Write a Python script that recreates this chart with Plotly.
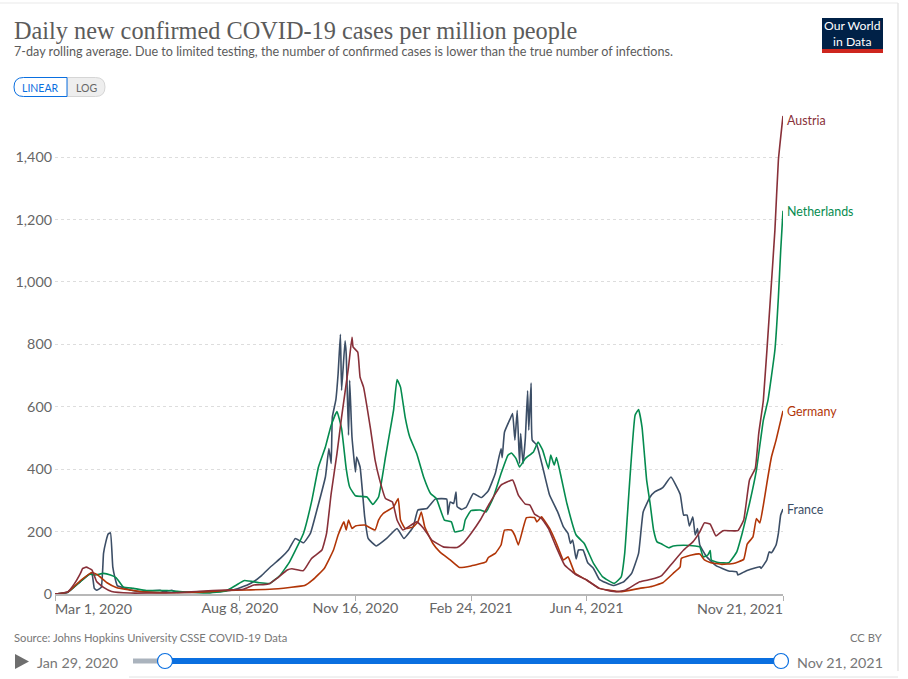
import pandas as pd
import plotly.graph_objects as go

W, H = 908, 679
# the photographed page comes out slightly squeezed vertically, so y positions are laid out against this height
H_LAYOUT = 671
start_date = pd.Timestamp("2020-03-01")

# Values: days since Mar 1, 2020 and cases per million
france_days = [0, 11, 22, 30, 32, 34, 36, 40, 42, 44, 46, 48, 50, 52, 54, 59, 65, 73, 91, 94, 101, 105, 117, 137, 154,
               166, 172, 179, 186, 195, 202, 208, 215, 221, 227, 234, 237, 239, 240, 243, 245, 247, 248, 251, 252, 254,
               255, 257, 260, 261, 264, 268, 271, 278, 287, 296, 302, 310, 314, 322, 329, 339, 340, 342, 345, 347, 348,
               352, 356, 362, 369, 375, 381, 386, 387, 389, 394, 396, 398, 400, 402, 403, 405, 407, 409, 410, 412, 413,
               417, 422, 428, 435, 440, 444, 446, 448, 451, 453, 457, 461, 466, 471, 483, 492, 499, 505, 509, 515, 519,
               526, 533, 541, 544, 547, 549, 552, 554, 556, 558, 564, 572, 583, 590, 591, 598, 610, 611, 616, 618, 620,
               624, 626, 628, 630]
france_vals = [0, 5, 40, 64, 66, 18, 12, 21, 130, 167, 192, 196, 87, 50, 26, 21, 13, 8, 12, 7, 12, 6, 5, 7, 13,
               28, 40, 60, 85, 114, 141, 178, 164, 194, 274, 375, 466, 418, 567, 621, 706, 832, 653, 811, 770, 509,
               685, 503, 391, 439, 407, 247, 178, 154, 178, 210, 178, 215, 269, 274, 304, 304, 255, 295, 290, 327, 280,
               271, 279, 322, 309, 331, 386, 466, 437, 519, 562, 578, 493, 589, 418, 514, 418, 498, 651, 525, 676, 493,
               477, 407, 317, 263, 215, 194, 162, 173, 112, 141, 141, 100, 82, 47, 27, 39, 66, 130, 263, 311, 327,
               341, 375, 320, 253, 253, 218, 247, 189, 210, 157, 119, 91, 74, 71, 61, 74, 87, 82, 109, 135, 132,
               157, 194, 253, 272]

austria_days = [0, 11, 17, 22, 24, 27, 32, 36, 42, 49, 65, 102, 125, 148, 163, 172, 180, 186, 192, 201, 205, 215, 222,
                231, 235, 239, 244, 248, 254, 257, 258, 262, 264, 267, 273, 277, 281, 286, 292, 296, 301, 313, 319, 326,
                336, 348, 353, 360, 368, 376, 386, 396, 401, 407, 411, 415, 421, 427, 433, 441, 450, 460, 471, 486, 494,
                506, 516, 525, 534, 544, 552, 558, 562, 567, 572, 578, 591, 596, 601, 606, 609, 613, 619, 623, 626, 630]
austria_vals = [0, 7, 34, 66, 82, 86, 77, 40, 21, 8, 3, 4, 9, 13, 15, 29, 30, 34, 50, 77, 81, 75, 114,
                141, 194, 322, 450, 567, 727, 823, 791, 775, 695, 663, 530, 429, 365, 306, 295, 237, 205, 231, 210, 173,
                151, 149, 162, 194, 237, 290, 349, 365, 317, 288, 285, 256, 242, 210, 157, 93, 64, 45, 18, 7, 13,
                39, 47, 59, 98, 141, 167, 199, 228, 224, 186, 203, 203, 237, 365, 402, 514, 621, 942, 1166, 1390, 1532]

netherlands_days = [0, 11, 22, 30, 35, 42, 48, 53, 59, 68, 79, 97, 111, 131, 148, 157, 164, 177, 186, 195, 203, 215, 222,
                    228, 234, 239, 244, 248, 252, 255, 260, 270, 275, 280, 286, 288, 293, 296, 299, 303, 307, 313, 319,
                    325, 330, 337, 343, 346, 353, 355, 360, 368, 373, 379, 386, 392, 395, 399, 402, 407, 414, 418, 422,
                    427, 429, 432, 434, 438, 443, 451, 458, 466, 474, 484, 490, 493, 497, 502, 505, 508, 512, 515, 518,
                    521, 525, 531, 535, 544, 554, 558, 561, 565, 567, 568, 574, 583, 590, 595, 601, 607, 613, 617, 623,
                    626, 628, 630]
netherlands_vals = [0, 6, 40, 63, 61, 66, 61, 52, 23, 18, 11, 11, 7, 3, 10, 29, 43, 36, 34, 61, 103, 194, 295,
                    407, 471, 541, 585, 530, 402, 343, 315, 311, 287, 311, 439, 482, 589, 687, 663, 567, 503, 450, 375,
                    322, 306, 237, 231, 199, 205, 237, 267, 269, 263, 306, 386, 445, 452, 434, 407, 434, 455, 487, 461,
                    402, 445, 413, 437, 375, 290, 189, 162, 98, 55, 34, 55, 130, 343, 573, 591, 535, 365, 290, 205,
                    167, 160, 148, 154, 156, 154, 151, 119, 125, 139, 109, 101, 100, 135, 199, 290, 397, 557, 621, 782,
                    950, 1100, 1228]

germany_days = [0, 11, 22, 32, 37, 45, 53, 65, 79, 102, 125, 148, 166, 186, 203, 216, 223, 233, 241, 245, 250, 252, 254,
                257, 260, 268, 277, 280, 284, 293, 297, 299, 303, 310, 314, 317, 320, 327, 333, 342, 350, 360, 373, 375,
                381, 386, 389, 395, 398, 401, 405, 408, 415, 417, 421, 428, 434, 440, 444, 450, 460, 471, 489, 506, 515,
                526, 535, 541, 542, 551, 558, 562, 567, 577, 587, 596, 599, 604, 607, 610, 613, 616, 620, 624, 630]
germany_vals = [0, 6, 43, 69, 61, 36, 21, 13, 6, 4, 6, 11, 13, 15, 21, 27, 45, 82, 141, 189, 231, 205, 237,
                210, 218, 221, 205, 237, 258, 279, 306, 237, 210, 215, 231, 263, 215, 162, 135, 109, 85, 90, 103, 117,
                130, 157, 205, 205, 187, 157, 210, 245, 245, 231, 247, 210, 162, 109, 119, 66, 45, 18, 7, 18, 23,
                36, 66, 87, 114, 125, 128, 109, 101, 95, 98, 111, 160, 183, 242, 228, 285, 354, 439, 493, 587]

series_names = ["France", "Netherlands", "Germany", "Austria"]
series_days = [france_days, netherlands_days, germany_days, austria_days]
series_vals = [france_vals, netherlands_vals, germany_vals, austria_vals]
series_colors = ["#3C4E66", "#058B4F", "#B13507", "#883039"]
label_y = [510, 211, 411, 121]

y_ticks = [0, 200, 400, 600, 800, 1000, 1200, 1400]
x_tick_days = [0, 160, 260, 360, 460, 630]
x_tick_text = ["", "Aug 8, 2020", "Nov 16, 2020", "Feb 24, 2021", "Jun 4, 2021", ""]


def to_date(day):
    return start_date + pd.Timedelta(days=day)


def fx(x):
    return x / W


def fy(y):
    return 1 - y / H_LAYOUT


def text(x, y, s, size, color, anchor="left", family="Lato"):
    # annotations carry a small inner padding, shifted away here
    shift = {"left": -2, "right": 2, "center": 0}[anchor]
    fig.add_annotation(x=fx(x), y=fy(y), xref="paper", yref="paper", text=s, showarrow=False,
                       xanchor=anchor, yanchor="middle", align="left", xshift=shift,
                       font=dict(family=family, size=size, color=color))


def box(x0, y0, x1, y1, color):
    fig.add_shape(type="rect", xref="paper", yref="paper", x0=fx(x0), x1=fx(x1), y0=fy(y0), y1=fy(y1),
                  fillcolor=color, line_width=0)


def pill(x0, y0, x1, y1, left, fill, border):
    # half-rounded button, rounded on the left or on the right side
    r = (y1 - y0) / 2
    p = lambda x, y: f"{fx(x):.5f},{fy(y):.5f}"
    if left:
        d = (f"M{p(x1, y0)} L{p(x0 + r, y0)} Q{p(x0, y0)} {p(x0, y0 + r)} "
             f"Q{p(x0, y1)} {p(x0 + r, y1)} L{p(x1, y1)} Z")
    else:
        d = (f"M{p(x0, y0)} L{p(x1 - r, y0)} Q{p(x1, y0)} {p(x1, y0 + r)} "
             f"Q{p(x1, y1)} {p(x1 - r, y1)} L{p(x0, y1)} Z")
    fig.add_shape(type="path", xref="paper", yref="paper", path=d, fillcolor=fill, line=dict(color=border, width=1))


fig = go.Figure()

for name, days, vals, color in zip(series_names, series_days, series_vals, series_colors):
    fig.add_trace(go.Scatter(x=[to_date(d) for d in days], y=vals, mode="lines", name=name,
                             line=dict(color=color, width=1.6, shape="spline", smoothing=0.35),
                             cliponaxis=False, showlegend=False))

fig.update_layout(
    width=W, height=H, autosize=False,
    margin=dict(l=0, r=0, t=0, b=0),
    paper_bgcolor="white", plot_bgcolor="white",
    font=dict(family="Lato", color="#666666"),
    xaxis=dict(domain=[fx(55), fx(783)], range=[to_date(0), to_date(630)],
               tickmode="array", tickvals=[to_date(d) for d in x_tick_days], ticktext=x_tick_text,
               ticks="outside", ticklen=5, tickcolor="#b0b0b0", tickfont=dict(size=14.3, color="#666666"),
               ticklabelstandoff=-5,
               showline=True, linecolor="#b8b8b8", linewidth=1.5, showgrid=False, zeroline=False),
    yaxis=dict(domain=[fy(594), fy(110)], range=[0, 1551], tickmode="array", tickvals=y_ticks,
               tickformat=",d", tickfont=dict(size=14.3, color="#666666"), ticks="", ticklabelstandoff=2,
               showgrid=True, gridcolor="#dddddd", griddash="3px,3px", gridwidth=1,
               zeroline=False, showline=False),
)

# page card edges
fig.add_shape(type="line", xref="paper", yref="paper", x0=0, x1=fx(898), y0=fy(3), y1=fy(3),
              line=dict(color="#f0f0f0", width=1.5))
fig.add_shape(type="line", xref="paper", yref="paper", x0=fx(898), x1=fx(898), y0=fy(3), y1=0,
              line=dict(color="#e6e6e6", width=1.5))
fig.add_shape(type="line", xref="paper", yref="paper", x0=fx(129), x1=fx(898), y0=fy(677), y1=fy(677),
              line=dict(color="#e2e2e2", width=1))

# header
text(14, 30, "Daily new confirmed COVID-19 cases per million people", 24.3, "#5b5b5b", family="Liberation Serif")
text(14, 52, "7-day rolling average. Due to limited testing, the number of confirmed cases is lower than the true number of infections.",
     12.6, "#5b5b5b")

# logo
box(822, 18, 883, 53, "#002147")
box(822, 49, 883, 53, "#CE261E")
fig.add_annotation(x=fx(852.5), y=fy(33.5), xref="paper", yref="paper", text="Our World<br>in Data", showarrow=False,
                   xanchor="center", yanchor="middle", align="center",
                   font=dict(family="Lato", size=12.2, color="white"))

# linear / log toggle
pill(67, 77.5, 105, 96.5, False, "#eeeeee", "#d5d5d5")
pill(14, 77.5, 67, 96.5, True, "white", "#0A6FE0")
text(40.5, 87.5, "LINEAR", 10.5, "#0A6FE0", anchor="center")
text(86, 87.5, "LOG", 10.5, "#666666", anchor="center")

# end of line labels
for name, color, y in zip(series_names, series_colors, label_y):
    text(787, y, name, 12.4, color)

# x axis end labels, kept inside the plot width
text(55, 608, "Mar 1, 2020", 14.3, "#666666")
text(783, 608, "Nov 21, 2021", 14.3, "#666666", anchor="right")

# footer
text(14, 637, "Source: Johns Hopkins University CSSE COVID-19 Data", 11.2, "#777777")
text(882, 637, "CC BY", 11.2, "#777777", anchor="right")

# timeline
fig.add_shape(type="path", xref="paper", yref="paper", fillcolor="#6e6e6e", line_width=0,
              path=f"M{fx(15)},{fy(654)} L{fx(29)},{fy(661.5)} L{fx(15)},{fy(669)} Z")
text(37, 662, "Jan 29, 2020", 14.3, "#777777")
text(797, 662, "Nov 21, 2021", 14.3, "#777777")
box(133, 658.5, 165, 663.5, "#AAB3BD")
box(165, 658, 781, 664, "#0A6FE0")
for cx in [165, 781]:
    fig.add_shape(type="circle", xref="paper", yref="paper", x0=fx(cx - 7.5), x1=fx(cx + 7.5),
                  y0=fy(661 + 7.5), y1=fy(661 - 7.5), fillcolor="white", line=dict(color="#0A6FE0", width=1.2))

# the page default margin would push the figure off its pixel positions
fig.write_html("out.html", config={"displayModeBar": False}, post_script="document.body.style.margin='0';")
